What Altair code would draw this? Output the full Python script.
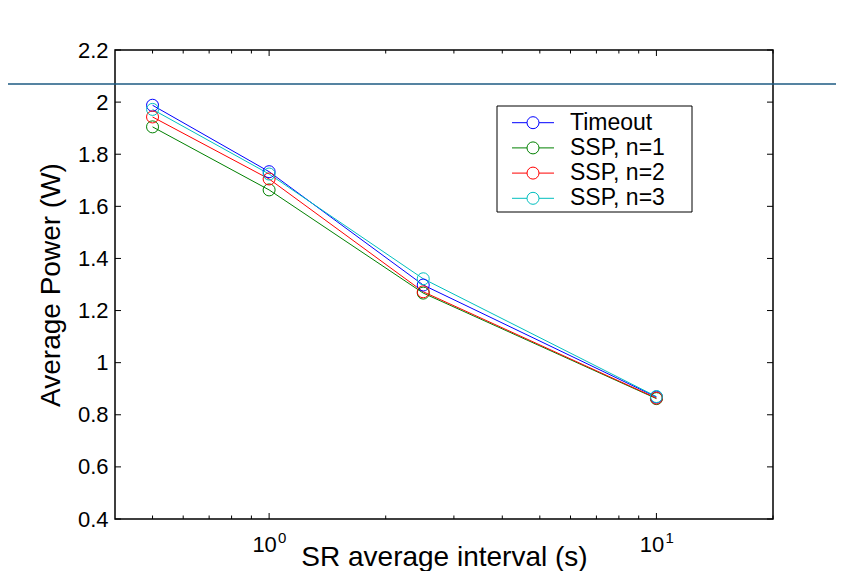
import altair as alt
import pandas as pd

# ---- data ----
x_vals = [0.5, 1, 2.5, 10]
series_names = ["Timeout", "SSP, n=1", "SSP, n=2", "SSP, n=3"]
timeout = [1.988, 1.733, 1.298, 0.868]
ssp_n1 = [1.905, 1.663, 1.267, 0.862]
ssp_n2 = [1.943, 1.705, 1.272, 0.864]
ssp_n3 = [1.972, 1.724, 1.322, 0.870]
colors = ["#0000FF", "#008000", "#FF0000", "#00BFBF"]

y_ticks = [0.4, 0.6, 0.8, 1.0, 1.2, 1.4, 1.6, 1.8, 2.0, 2.2]
x_major = [1, 10]
x_exponents = ["0", "1"]
x_minor = [0.5, 0.6, 0.7, 0.8, 0.9, 2, 3, 4, 5, 6, 7, 8, 9, 20]
x_domain = [0.4, 20]
y_domain = [0.4, 2.2]

W, H = 658, 469
FONT = "Liberation Sans"

rows = []
for name, vals in zip(series_names, [timeout, ssp_n1, ssp_n2, ssp_n3]):
    for xv, yv in zip(x_vals, vals):
        rows.append({"series": name, "x": xv, "y": yv})
df = pd.DataFrame(rows)

xscale = alt.Scale(type="log", domain=x_domain, nice=False)
yscale = alt.Scale(domain=y_domain, nice=False, zero=False)
cscale = alt.Scale(domain=series_names, range=colors)

x_enc = alt.X(
    "x:Q", scale=xscale,
    axis=alt.Axis(values=x_major, labelExpr="'10'", ticks=False, domain=False, grid=False,
                  labelFontSize=22, labelOffset=-5, labelPadding=15, labelColor="black",
                  labelFont=FONT,
                  title="SR average interval (s)", titleFontSize=28, titleFontWeight="normal",
                  titleColor="black", titleFont=FONT, titleY=46, titleBaseline="alphabetic"),
)
y_enc = alt.Y(
    "y:Q", scale=yscale,
    axis=alt.Axis(values=y_ticks, format=".1~f", ticks=False, domain=False, grid=False,
                  labelFontSize=22, labelPadding=7, labelColor="black", labelFont=FONT,
                  title="Average Power (W)", titleFontSize=28, titleFontWeight="normal",
                  titleColor="black", titleFont=FONT, titleX=-64, titleY=H / 2,
                  titleAlign="center", titleBaseline="middle", titleAngle=270),
)

lines = alt.Chart(df).mark_line(strokeWidth=1).encode(
    x=x_enc, y=y_enc,
    color=alt.Color("series:N", scale=cscale, legend=None),
)
points = alt.Chart(df).mark_point(filled=False, size=144, strokeWidth=1, opacity=1).encode(
    x=alt.X("x:Q", scale=xscale), y=alt.Y("y:Q", scale=yscale),
    color=alt.Color("series:N", scale=cscale, legend=None),
)

ydf = pd.DataFrame({"v": y_ticks})
ytick_l = alt.Chart(ydf).mark_rule(color="black", strokeWidth=1).encode(
    y=alt.Y("v:Q", scale=yscale), x=alt.value(0), x2=alt.value(6))
ytick_r = alt.Chart(ydf).mark_rule(color="black", strokeWidth=1).encode(
    y=alt.Y("v:Q", scale=yscale), x=alt.value(W - 6), x2=alt.value(W))

xmaj = pd.DataFrame({"v": x_major, "e": x_exponents})
xmin = pd.DataFrame({"v": x_minor})
xt = []
for d, ln in [(xmaj, 6), (xmin, 3.5)]:
    xt.append(alt.Chart(d).mark_rule(color="black", strokeWidth=1).encode(
        x=alt.X("v:Q", scale=xscale), y=alt.value(H), y2=alt.value(H - ln)))
    xt.append(alt.Chart(d).mark_rule(color="black", strokeWidth=1).encode(
        x=alt.X("v:Q", scale=xscale), y=alt.value(0), y2=alt.value(ln)))

expo = alt.Chart(xmaj).mark_text(align="left", baseline="alphabetic", fontSize=15,
                                  font=FONT, color="black", dx=9).encode(
    x=alt.X("v:Q", scale=xscale), y=alt.value(H + 24), text="e:N")

frame = alt.Chart(alt.Data(values=[{"a": 1}])).mark_rect(
    fill=None, stroke="black", strokeWidth=1.5).encode(
    x=alt.value(0), x2=alt.value(W), y=alt.value(0), y2=alt.value(H))

main = alt.layer(lines, points, ytick_l, ytick_r, *xt, expo, frame)

# ---- legend box ----
leg = pd.DataFrame({"series": series_names, "row": list(range(len(series_names)))})
lscale = alt.Scale(domain=[0, 3], range=[72.7, 148.3])
box = alt.Chart(alt.Data(values=[{"a": 1}])).mark_rect(
    fill="white", stroke="black", strokeWidth=1).encode(
    x=alt.value(382), x2=alt.value(577), y=alt.value(56), y2=alt.value(162))
leg_line = alt.Chart(leg).mark_rule(strokeWidth=1).encode(
    x=alt.value(397), x2=alt.value(439),
    y=alt.Y("row:Q", scale=lscale, axis=None),
    color=alt.Color("series:N", scale=cscale, legend=None))
leg_pt = alt.Chart(leg).mark_point(filled=False, size=144, strokeWidth=1, fill="white",
                                   fillOpacity=1, opacity=1).encode(
    x=alt.value(418),
    y=alt.Y("row:Q", scale=lscale, axis=None),
    color=alt.Color("series:N", scale=cscale, legend=None))
leg_txt = alt.Chart(leg).mark_text(align="left", baseline="middle", fontSize=23,
                                   font=FONT, color="black").encode(
    x=alt.value(455),
    y=alt.Y("row:Q", scale=lscale, axis=None),
    text="series:N")
legend = alt.layer(box, leg_line, leg_pt, leg_txt)

deco = alt.Chart(alt.Data(values=[{"a": 1}])).mark_rule(color="#1d5a82", strokeWidth=1.5).encode(
    x=alt.value(-107), x2=alt.value(721), y=alt.value(34))

chart = alt.layer(main, legend, deco).resolve_scale(y="independent").properties(
    width=W, height=H,
    autosize=alt.AutoSizeParams(type="none"),
    padding={"left": 107, "top": 42, "right": 63, "bottom": 52},
).configure(font=FONT, background="white").configure_view(stroke=None)

chart.save("out.html", embed_options={"renderer": "svg", "actions": False})
